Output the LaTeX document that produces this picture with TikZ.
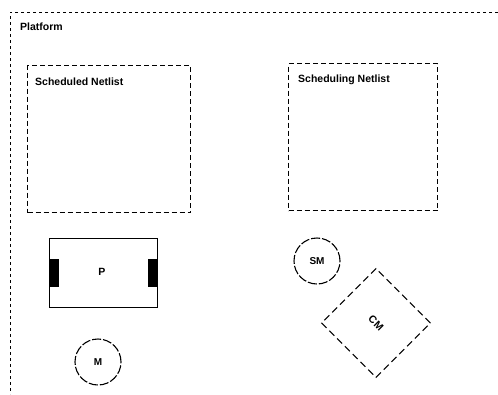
\documentclass[tikz,border=0pt]{standalone}
\usepackage{fontspec}
\setmainfont{Liberation Sans}
\begin{document}
\begin{tikzpicture}[x=1pt,y=-1pt,
  lbl/.style={font=\bfseries\fontsize{10.5}{12}\selectfont, inner sep=0pt},
  dbox/.style={draw, line width=1.1pt, dash pattern=on 5pt off 3pt},
  dcirc/.style={draw, circle, line width=1.1pt, dash pattern=on 9pt off 2pt, minimum size=46pt, inner sep=0pt, font=\bfseries\fontsize{10}{12}\selectfont},
  frame/.style={draw, line width=0.9pt, dash pattern=on 3pt off 3pt}]
\useasboundingbox (0,0) rectangle (498,394);
% platform frame (partially visible)
\coordinate (ftr) at (498,12);
\coordinate (ftl) at (10,12);
\coordinate (fbl) at (10,394);
\draw[frame] (ftr) -- (ftl) -- (fbl);
\node[lbl, anchor=west] (platform) at (20,27) {Platform};
% netlist boxes
\node[dbox, minimum width=163pt, minimum height=147pt, anchor=north west] (sched) at (27,65) {};
\node[lbl, anchor=west] (schedlbl) at (35,82) {Scheduled Netlist};
\node[dbox, minimum width=149pt, minimum height=147pt, anchor=north west] (scheding) at (288,63) {};
\node[lbl, anchor=west] (schedinglbl) at (298,80) {Scheduling Netlist};
% P block
\node[draw, line width=1.3pt, minimum width=108pt, minimum height=69pt, anchor=north west, inner sep=0pt] (P) at (49,238) {};
\node[lbl] (plbl) at (102,272) {P};
\node[fill=black, minimum width=10pt, minimum height=28pt, inner sep=0pt, anchor=west] (pl) at (P.west) {};
\node[fill=black, minimum width=10pt, minimum height=28pt, inner sep=0pt, anchor=east] (pr) at (P.east) {};
% circles
\node[dcirc] (M) at (98,362) {M};
\node[dcirc] (SM) at (317,261) {SM};
% CM diamond
\node[draw, line width=1.1pt, dash pattern=on 7pt off 4pt, minimum size=77pt, rotate=-45, inner sep=0pt, font=\bfseries\fontsize{10.5}{12}\selectfont] (CM) at (376,323) {CM};
\end{tikzpicture}
\end{document}
